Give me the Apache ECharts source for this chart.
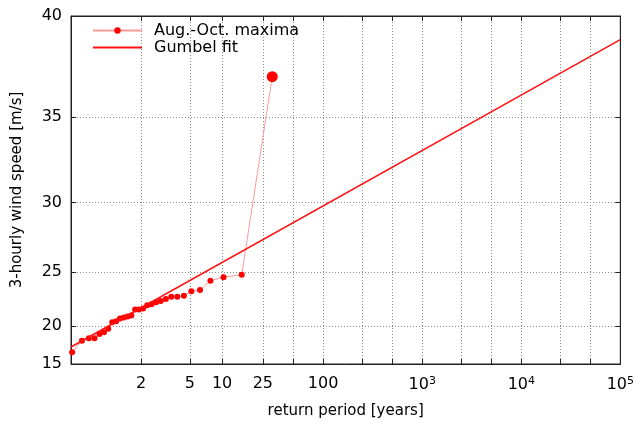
<!DOCTYPE html>
<html>
<head>
<meta charset="utf-8">
<script src="https://cdn.jsdelivr.net/npm/echarts@6/dist/echarts.min.js"></script>
<style>
html, body { margin: 0; padding: 0; background: #fff; }
#chart { width: 637px; height: 424px; }
</style>
</head>
<body>
<div id="chart"></div>
<script>
/* data */
var returnPeriod = [1.033, 1.069, 1.107, 1.148, 1.192, 1.24, 1.292, 1.348, 1.409, 1.476,
                    1.55, 1.632, 1.722, 1.824, 1.938, 2.067, 2.214, 2.385, 2.583, 2.818,
                    3.1, 3.444, 3.875, 4.429, 5.167, 6.2, 7.75, 10.33, 15.5, 31];
var windSpeed = [16.8, 18.3, 18.6, 18.6, 19.1, 19.3, 19.7, 20.4, 20.5, 20.8,
                 20.9, 21.0, 21.1, 21.7, 21.7, 21.8, 22.1, 22.2, 22.4, 22.5,
                 22.7, 22.9, 22.9, 23.0, 23.4, 23.5, 24.3, 24.6, 24.8, 37.1];
var fitPeriod = [1.03, 100000];
var fitSpeed = [17.5, 38.9];

var xLabelPeriods = [2, 5, 10, 25, 100, 1000, 10000, 100000];
var xLabelTexts = ['2', '5', '10', '25', '100', '10{sup|3}', '10{sup|4}', '10{sup|5}'];
var xGridPeriods = [2, 5, 10, 25, 50, 100, 250, 500, 1000, 2500, 5000, 10000, 25000, 50000, 100000];
var yTicks = [15, 20, 25, 30, 35, 40];

/* gumbel reduced variate for x, stretched scale for y */
function gx(T) { return -Math.log(-Math.log(1 - 1 / T)); }
function gy(v) { return (v - 5.5) * (v - 5.5); }

var xMin = gx(fitPeriod[0]), xMax = gx(100000);
var yMin = gy(15), yMax = gy(40);

var maxData = returnPeriod.map(function (T, i) { return [gx(T), gy(windSpeed[i])]; });
var fitData = fitPeriod.map(function (T, i) { return [gx(T), gy(fitSpeed[i])]; });

var font = 'DejaVu Sans';
var gridLine = { show: true, lineStyle: { color: '#8a8a8a', type: [1, 2], width: 1 } };
var border = { show: true, onZero: false, lineStyle: { color: '#222', width: 1 } };

var chart = echarts.init(document.getElementById('chart'));
var option = {
    animation: false,
    textStyle: { fontFamily: font },
    grid: {
        left: 71, right: 16, top: 16, bottom: 55, containLabel: false,
        show: true, borderColor: '#222', borderWidth: 1, backgroundColor: 'transparent'
    },
    legend: {
        orient: 'vertical',
        left: 87,
        top: 17.5,
        itemWidth: 49,
        itemHeight: 8,
        itemGap: 1,
        textStyle: { fontFamily: font, fontSize: 16, color: '#000', padding: [0, 0, 0, 7] },
        data: [
            { name: 'Aug.-Oct. maxima' },
            { name: 'Gumbel fit', itemStyle: { opacity: 0 } }
        ]
    },
    xAxis: [{
        type: 'value',
        min: xMin, max: xMax,
        name: 'return period [years]',
        nameLocation: 'middle',
        nameGap: 40,
        nameTextStyle: { fontFamily: font, fontSize: 15, color: '#000' },
        axisLine: border,
        axisTick: { inside: true, length: 5, customValues: xGridPeriods.map(gx), lineStyle: { color: '#222' } },
        axisLabel: {
            customValues: xLabelPeriods.map(gx),
            margin: 12,
            fontFamily: font, fontSize: 16, color: '#000',
            formatter: function (val) {
                for (var i = 0; i < xLabelPeriods.length; i++) {
                    if (Math.abs(gx(xLabelPeriods[i]) - val) < 1e-6) return xLabelTexts[i];
                }
                return '';
            },
            rich: { sup: { fontFamily: font, fontSize: 11, verticalAlign: 'top', padding: [0, 0, 6, 0] } }
        },
        splitLine: gridLine
    }, {
        type: 'value',
        position: 'top',
        min: xMin, max: xMax,
        axisLine: border,
        axisTick: { inside: true, length: 5, customValues: xGridPeriods.map(gx), lineStyle: { color: '#222' } },
        axisLabel: { show: false },
        splitLine: { show: false }
    }],
    yAxis: [{
        type: 'value',
        min: yMin, max: yMax,
        name: '3-hourly wind speed [m/s]',
        nameLocation: 'middle',
        nameGap: 46,
        nameTextStyle: { fontFamily: font, fontSize: 15, color: '#000' },
        axisLine: border,
        axisTick: { inside: true, length: 5, customValues: yTicks.map(gy), lineStyle: { color: '#222' } },
        axisLabel: {
            customValues: yTicks.map(gy),
            margin: 9,
            fontFamily: font, fontSize: 16, color: '#000',
            formatter: function (val) { return String(Math.round(Math.sqrt(val) + 5.5)); }
        },
        splitLine: gridLine
    }, {
        type: 'value',
        position: 'right',
        min: yMin, max: yMax,
        axisLine: border,
        axisTick: { inside: true, length: 5, customValues: yTicks.map(gy), lineStyle: { color: '#222' } },
        axisLabel: { show: false },
        splitLine: { show: false }
    }],
    series: [{
        name: 'Aug.-Oct. maxima',
        type: 'line',
        data: maxData,
        symbol: 'circle',
        symbolSize: function (val, params) {
            return params.dataIndex === maxData.length - 1 ? 11 : 6;
        },
        itemStyle: { color: '#ff0000' },
        lineStyle: { color: '#ff9a9a', width: 1 },
        z: 2
    }, {
        name: 'Gumbel fit',
        type: 'line',
        data: fitData,
        symbol: 'none',
        itemStyle: { color: '#ff0000' },
        lineStyle: { color: '#ff1010', width: 1.5 },
        z: 3
    }]
};
chart.setOption(option);
</script>
</body>
</html>
